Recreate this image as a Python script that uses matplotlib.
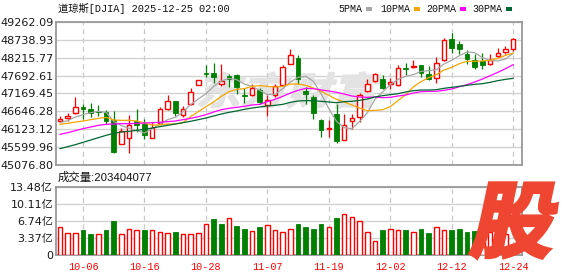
import matplotlib
matplotlib.use('Agg')
import matplotlib.pyplot as plt
from matplotlib.patches import Rectangle, PathPatch
from matplotlib.textpath import TextPath
from matplotlib.font_manager import FontProperties
from matplotlib.transforms import Affine2D, IdentityTransform

# ---- data (DJIA daily, 2025-10-01 .. 2025-12-24) ----
dates = ['10-01', '10-02', '10-03', '10-06', '10-07', '10-08', '10-09', '10-10', '10-13', '10-14',
         '10-15', '10-16', '10-17', '10-20', '10-21', '10-22', '10-23', '10-24', '10-27', '10-28',
         '10-29', '10-30', '10-31', '11-03', '11-04', '11-05', '11-06', '11-07', '11-10', '11-11',
         '11-12', '11-13', '11-14', '11-17', '11-18', '11-19', '11-20', '11-21', '11-24', '11-25',
         '11-26', '11-28', '12-01', '12-02', '12-03', '12-04', '12-05', '12-08', '12-09', '12-10',
         '12-11', '12-12', '12-15', '12-16', '12-17', '12-18', '12-19', '12-22', '12-23', '12-24']

opens = [46374, 46462, 46608, 46774, 46706, 46657, 46628, 46384, 45701, 45877,
         46355, 46277, 45877, 46316, 46725, 46940, 46530, 46852, 47428, 47769,
         47769, 47438, 47681, 47721, 47135, 47135, 47262, 46823, 47116, 47408,
         48043, 48208, 47243, 47067, 46403, 46121, 46560, 45818, 46374, 46481,
         47233, 47525, 47584, 47457, 47408, 47925, 47935, 47994, 47730, 47623,
         48140, 48755, 48608, 48335, 48140, 48111, 48023, 48257, 48384, 48462]
highs = [46511, 46599, 47067, 46872, 46891, 46823, 46677, 46647, 46160, 46530,
         46706, 46413, 46335, 46774, 47135, 46960, 46804, 47330, 47574, 47994,
         48072, 48023, 47750, 47730, 47330, 47457, 47330, 47116, 47457, 48013,
         48482, 48286, 47360, 47116, 46413, 46403, 46872, 46579, 46579, 47184,
         47603, 47769, 47701, 47623, 48013, 48072, 48140, 48013, 47964, 48238,
         48794, 48940, 48696, 48433, 48335, 48364, 48316, 48511, 48550, 48794]
lows = [46335, 46364, 46579, 46433, 46481, 46501, 46286, 45440, 45691, 45428,
        46042, 45847, 45867, 46286, 46696, 46511, 46481, 46823, 47408, 47652,
        47477, 47389, 47360, 47164, 46891, 47096, 46872, 46511, 47067, 47389,
        48033, 47457, 46872, 46433, 45896, 45896, 45730, 45799, 46140, 46335,
        47213, 47506, 47311, 47311, 47389, 47701, 47916, 47652, 47555, 47486,
        48130, 48364, 48316, 48043, 47896, 47896, 48013, 48238, 48335, 48403]
closes = [46433, 46501, 46765, 46725, 46608, 46618, 46374, 45457, 46062, 46257,
          46257, 45964, 46160, 46706, 46940, 46608, 46725, 47213, 47555, 47730,
          47652, 47535, 47603, 47360, 47086, 47330, 46921, 46989, 47379, 47945,
          48286, 47603, 47164, 46608, 46111, 46150, 45769, 46238, 46452, 47116,
          47438, 47730, 47330, 47506, 47916, 47896, 47974, 47779, 47603, 48072,
          48725, 48511, 48462, 48169, 47945, 47994, 48140, 48364, 48462, 48755]

ma5 = [46316, 46374, 46481, 46550, 46608, 46647, 46618, 46355, 46228, 46150,
       46081, 46013, 46140, 46267, 46403, 46472, 46628, 46842, 47008, 47164,
       47379, 47535, 47613, 47574, 47447, 47379, 47262, 47135, 47145, 47311,
       47506, 47642, 47672, 47525, 47155, 46725, 46355, 46169, 46140, 46345,
       46599, 46999, 47213, 47428, 47584, 47672, 47721, 47818, 47838, 47867,
       48033, 48140, 48277, 48384, 48364, 48218, 48140, 48121, 48179, 48345]
ma10 = [46267, 46296, 46335, 46364, 46403, 46442, 46472, 46394, 46384, 46384,
        46364, 46306, 46247, 46247, 46277, 46277, 46316, 46491, 46638, 46784,
        46921, 47086, 47223, 47291, 47311, 47379, 47399, 47379, 47360, 47379,
        47447, 47447, 47408, 47330, 47233, 47116, 46999, 46921, 46833, 46745,
        46667, 46677, 46696, 46784, 46960, 47135, 47360, 47516, 47633, 47721,
        47857, 47935, 48043, 48111, 48111, 48121, 48140, 48199, 48286, 48355]
ma20 = [45974, 46023, 46081, 46140, 46189, 46238, 46267, 46277, 46286, 46286,
        46296, 46306, 46316, 46325, 46345, 46364, 46403, 46442, 46491, 46550,
        46628, 46696, 46735, 46765, 46794, 46833, 46852, 46930, 46999, 47086,
        47184, 47262, 47321, 47311, 47272, 47243, 47204, 47155, 47096, 47067,
        47057, 47067, 47047, 47057, 47096, 47125, 47184, 47223, 47233, 47233,
        47262, 47301, 47369, 47428, 47506, 47594, 47691, 47789, 47896, 48013]
ma30 = [45555, 45613, 45672, 45740, 45808, 45877, 45945, 46003, 46042, 46062,
        46091, 46121, 46160, 46199, 46238, 46277, 46316, 46355, 46403, 46452,
        46511, 46569, 46618, 46657, 46706, 46745, 46774, 46804, 46823, 46852,
        46911, 46950, 46960, 46960, 46940, 46921, 46901, 46930, 46940, 46969,
        47008, 47067, 47106, 47135, 47164, 47213, 47252, 47272, 47272, 47281,
        47321, 47350, 47379, 47408, 47438, 47457, 47496, 47545, 47584, 47613]

# volume in 亿 shares
volume = [5.48, 4.30, 4.30, 4.96, 4.16, 4.16, 4.96, 6.74, 4.10, 5.09,
          4.96, 4.96, 4.96, 4.49, 4.30, 4.49, 4.10, 4.10, 4.30, 6.08,
          7.14, 6.15, 7.27, 5.75, 5.15, 4.76, 5.48, 5.88, 4.89, 4.49,
          5.15, 6.15, 5.55, 5.15, 6.15, 5.48, 7.40, 8.06, 7.47, 6.67,
          4.49, 2.78, 4.96, 5.09, 4.89, 4.96, 4.49, 5.15, 4.36, 5.48,
          4.96, 4.96, 5.15, 4.63, 4.80, 4.70, 4.63, 4.50, 4.16, 2.03]

price_ticks = [45076.80, 45599.96, 46123.12, 46646.28, 47169.45,
               47692.61, 48215.77, 48738.93, 49262.09]
vol_ticks = [0, 3.37, 6.74, 10.11, 13.48]
tick_dates = ['10-06', '10-16', '10-28', '11-07', '11-19', '12-02', '12-12', '12-24']
ma_names = ['5PMA', '10PMA', '20PMA', '30PMA']
ma_colors = ['#a6a6a6', '#f5a500', '#ff00ff', '#006633']

title_text = '道琼斯[DJIA] 2025-12-25 02:00'
vol_text = '成交量:203404077'

RED = '#ff0000'
GREEN = '#008000'
MONO = ['Liberation Mono', 'Noto Sans CJK SC']
SANS = ['DejaVu Sans', 'Noto Sans CJK SC']

W, H = 578, 276
fig = plt.figure(figsize=(W / 100, H / 100), dpi=100)
ax = fig.add_axes([56 / W, 1 - 165 / H, 466 / W, 143 / H])
axv = fig.add_axes([56 / W, 1 - 255 / H, 466 / W, 68 / H])

x = list(range(len(dates)))
tick_pos = [dates.index(d) for d in tick_dates]


def skew_text(target_ax, s, box, color, skew, zorder, stroke=0):
    # draw text as a slanted path, fitted to a pixel box (x0, y0, x1, y1) from bottom-left
    fp = FontProperties(family='Noto Sans CJK SC', weight='bold')
    p = TextPath((0, 0), s, size=100, prop=fp)
    p = Affine2D().skew_deg(skew, 0).transform_path(p)
    e = p.get_extents()
    x0, y0, x1, y1 = box
    tr = Affine2D().translate(-e.x0, -e.y0).scale((x1 - x0) / e.width, (y1 - y0) / e.height).translate(x0, y0)
    patch = PathPatch(tr.transform_path(p), facecolor=color,
                      edgecolor=color if stroke else 'none', lw=stroke,
                      transform=IdentityTransform(), zorder=zorder)
    target_ax.add_artist(patch)


# ---- candles ----
w = 0.6
for i in x:
    o, h, l, c = opens[i], highs[i], lows[i], closes[i]
    if c >= o:
        ax.vlines(i, l, h, color=RED, lw=0.9, zorder=3)
        ax.add_patch(Rectangle((i - w / 2, o), w, max(c - o, 8), facecolor='white',
                               edgecolor=RED, lw=1.0, zorder=4))
    else:
        ax.vlines(i, l, h, color=GREEN, lw=0.9, zorder=3)
        ax.add_patch(Rectangle((i - w / 2, c), w, max(o - c, 8), facecolor=GREEN,
                               edgecolor=GREEN, lw=0.6, zorder=4))

for ma, col in zip([ma5, ma10, ma20, ma30], ma_colors):
    ax.plot(x, ma, color=col, lw=0.9, zorder=5)

skew_text(ax, '东方财富', (198, 168, 382, 204), '#e3e3e3', 14, 1, stroke=1.0)

ax.set_xlim(-0.52, 60.15)
ax.set_ylim(price_ticks[0], price_ticks[-1])
ax.set_yticks(price_ticks)
ax.set_yticklabels([f'{v:.2f}' for v in price_ticks])
ax.set_xticks(tick_pos)
ax.set_xticklabels([])
ax.yaxis.grid(True, color='#d2d2d2', lw=1.0)
ax.xaxis.grid(True, color='#c8c8c8', lw=0.9, ls=(0, (4, 3)))
ax.set_axisbelow(True)

# ---- volume ----
vol_up = [closes[0] >= opens[0]] + [closes[i] >= closes[i - 1] for i in x[1:]]
for i in x:
    if vol_up[i]:
        axv.bar(i, volume[i], width=w, facecolor='white', edgecolor=RED, lw=1.0, zorder=3)
    else:
        axv.bar(i, volume[i], width=w, facecolor=GREEN, edgecolor=GREEN, lw=0.6, zorder=3)

axv.set_xlim(-0.52, 60.15)
axv.set_ylim(vol_ticks[0], vol_ticks[-1])
axv.set_yticks(vol_ticks)
axv.set_yticklabels(['0'] + [f'{v:.2f}亿' for v in vol_ticks[1:]])
axv.set_xticks(tick_pos)
axv.set_xticklabels(tick_dates)
axv.yaxis.grid(True, color='#d2d2d2', lw=1.0)
axv.xaxis.grid(True, color='#c8c8c8', lw=0.9, ls=(0, (4, 3)))
axv.set_axisbelow(True)

for a in (ax, axv):
    for sp in a.spines.values():
        sp.set_color('#999999')
        sp.set_linewidth(1.3)
    a.tick_params(length=0, pad=2, labelsize=8, labelcolor='#1a1a1a')
    for t in a.get_yticklabels():
        t.set_family(SANS)
for t in axv.get_xticklabels():
    t.set_family(MONO)
    t.set_color(RED)
    t.set_fontsize(7.3)
axv.tick_params(axis='x', pad=5)

# ---- header texts ----
fig.text(58 / W, 1 - 8.5 / H, title_text, family=MONO, fontsize=7.4, color='#111111',
         ha='left', va='center')
leg_x = [338, 380, 426, 472]
for name, col, lx in zip(ma_names, ma_colors, leg_x):
    fig.text(lx / W, 1 - 8.5 / H, name, family=MONO, fontsize=7.2, color='#111111',
             ha='left', va='center')
    sq_x = lx + len(name) * 6 + 4
    fig.add_artist(Rectangle((sq_x, H - 11), 6, 4, facecolor=col, edgecolor='none',
                             transform=IdentityTransform()))

fig.text(58 / W, 1 - 177 / H, vol_text, family=['Liberation Sans', 'Noto Sans CJK SC'],
         fontsize=8.2, color='#111111', ha='left', va='center')

# big logo in the corner
skew_text(fig, '股', (470, 18, 557, 93), '#ef4631', 12, 10, stroke=2.5)

fig.savefig('out.png', dpi=100)
